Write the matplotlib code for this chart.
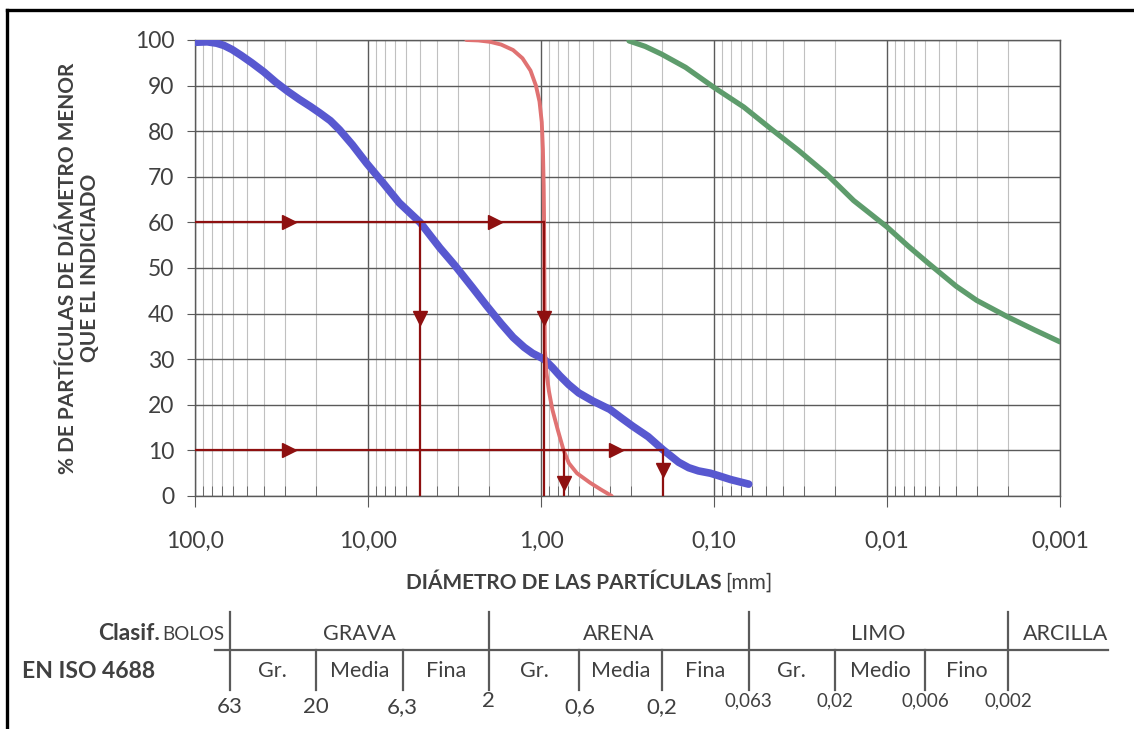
import numpy as np
import matplotlib
matplotlib.use("Agg")
import matplotlib.pyplot as plt
import matplotlib.transforms as mtransforms
from matplotlib.lines import Line2D

plt.rcParams['font.family'] = ['Lato', 'DejaVu Sans']

# ── data ─────────────────────────────────────────────────────────────────────
blue_d = [100, 85, 75, 68, 61, 54, 47, 40, 34, 29, 25, 21.5, 19, 16.5, 14.6, 12.3,
          10.2, 8.2, 6.6, 5.0, 3.84, 3.12, 2.5, 2.07, 1.7, 1.45, 1.25, 1.12, 0.96,
          0.86, 0.78, 0.69, 0.605, 0.5, 0.40, 0.34, 0.295, 0.24, 0.198, 0.16,
          0.14, 0.123, 0.105, 0.095, 0.08, 0.063]
blue_p = [99.5, 99.6, 99.3, 98.8, 97.9, 96.6, 95, 93, 90.7, 88.7, 87, 85.4, 84,
          82.3, 80.3, 77, 73, 68.7, 64.3, 60, 54.4, 50.4, 45.8, 41.8, 37.8, 34.8,
          32.6, 31.3, 30, 28.2, 26.4, 24.4, 22.6, 20.8, 19, 17, 15.3, 13, 10.2,
          7.4, 6.2, 5.5, 5.0, 4.5, 3.6, 2.6]

red_d = [2.7, 2.3, 1.97, 1.7, 1.45, 1.28, 1.15, 1.07, 1.02, 0.99, 0.975, 0.965,
         0.96, 0.955, 0.95, 0.93, 0.90, 0.86, 0.80, 0.74, 0.69, 0.62, 0.52, 0.45, 0.39]
red_p = [100, 99.9, 99.6, 99, 97.8, 96, 93.3, 90, 86.5, 82, 76, 68, 60, 45, 32,
         27, 23, 19, 14.5, 10, 7.2, 5, 2.9, 1.4, 0]

green_d = [0.31, 0.25, 0.201, 0.146, 0.1, 0.0673, 0.0468, 0.0325, 0.0225, 0.0156,
           0.0122, 0.01, 0.00754, 0.00575, 0.00398, 0.00303, 0.00201, 0.0014, 0.001]
green_p = [99.8, 98.6, 96.9, 94, 89.6, 85.3, 80.5, 75.8, 70.7, 64.8,
           61.6, 59, 54.8, 51, 46, 42.9, 39.3, 36.4, 33.8]

# characteristic diameters (D60 / D10) and arrow spots
d60_blue, d60_red = 5.0, 0.96
d10_red, d10_blue = 0.735, 0.198
h60_arrows = [28.5, 1.84]
h10_arrows = [28.5, 0.37]

x_ticks = [100, 10, 1, 0.1, 0.01, 0.001]
x_ticklabels = ["100,0", "10,00", "1,00", "0,10", "0,01", "0,001"]
y_ticks = list(range(0, 101, 10))

# EN ISO 14688 classification table
bounds = [63, 20, 6.3, 2, 0.6, 0.2, 0.063, 0.02, 0.006, 0.002]
bound_labels = ["63", "20", "6,3", "2", "0,6", "0,2", "0,063", "0,02", "0,006", "0,002"]
main_bounds = [63, 2, 0.063, 0.002]
groups = ["GRAVA", "ARENA", "LIMO"]
subgroups = ["Gr.", "Media", "Fina", "Gr.", "Media", "Fina", "Gr.", "Medio", "Fino"]

TXT = "#404040"
GRID = "#5a5a5a"
DARKRED = "#8e1010"

W, H = 1134, 729
fig = plt.figure(figsize=(W / 100, H / 100), dpi=100)
ax = fig.add_axes([195 / W, 1 - 496 / H, (1060 - 195) / W, (496 - 40) / H])

ax.set_xscale("log")
ax.set_xlim(100, 0.001)
ax.set_ylim(0, 100)

# grid
ax.grid(True, which="major", axis="both", color=GRID, lw=1.0)
ax.grid(True, which="minor", axis="x", color="#c0c0c0", lw=0.8)
ax.set_axisbelow(True)
for s in ax.spines.values():
    s.set_color(GRID)
    s.set_linewidth(1.0)

ax.set_xticks(x_ticks)
ax.set_xticklabels(x_ticklabels)
ax.set_yticks(y_ticks)
ax.xaxis.set_minor_locator(matplotlib.ticker.LogLocator(base=10, subs=np.arange(2, 10)))
ax.xaxis.set_minor_formatter(matplotlib.ticker.NullFormatter())
ax.tick_params(axis="x", which="major", direction="out", length=8, color=GRID,
               labelsize=16.5, labelcolor=TXT, pad=17)
ax.tick_params(axis="x", which="minor", direction="in", length=7, color=GRID)
ax.tick_params(axis="y", direction="out", length=6, color=GRID,
               labelsize=16.5, labelcolor=TXT, pad=9)

# curves
ax.plot(blue_d, blue_p, color="#5858d0", lw=5.5, solid_capstyle="round",
        solid_joinstyle="round", zorder=4)
ax.plot(red_d, red_p, color="#e07272", lw=2.8, solid_capstyle="round",
        solid_joinstyle="round", zorder=4)
ax.plot(green_d, green_p, color="#5e9c6c", lw=3.8, solid_capstyle="round",
        solid_joinstyle="round", zorder=4)

# D60 / D10 construction lines
lkw = dict(color=DARKRED, lw=1.6, zorder=5)
ax.plot([100, d60_red], [60, 60], **lkw)
ax.plot([d60_blue, d60_blue], [60, 0], **lkw)
ax.plot([d60_red, d60_red], [60, 0], **lkw)
ax.plot([100, d10_blue], [10, 10], **lkw)
ax.plot([d10_red, d10_red], [10, 0], **lkw)
ax.plot([d10_blue, d10_blue], [10, 0], **lkw)
mkw = dict(color=DARKRED, ms=10, ls="none", zorder=6)
ax.plot(h60_arrows, [60] * len(h60_arrows), marker=">", **mkw)
ax.plot(h10_arrows, [10] * len(h10_arrows), marker=">", **mkw)
ax.plot([d60_blue, d60_red], [39, 39], marker="v", **mkw)
ax.plot([d10_red], [2.8], marker="v", **mkw)
ax.plot([d10_blue], [5.8], marker="v", **mkw)

ax.set_ylabel("% DE PARTÍCULAS DE DIÁMETRO MENOR\nQUE EL INDICIADO",
              fontsize=15, fontweight="bold", color=TXT, linespacing=1.15)
ax.yaxis.set_label_coords((100 - 195) / 865, 0.5)

# x label: bold part + normal unit
fig.text(722 / W, 1 - 583 / H, "DIÁMETRO DE LAS PARTÍCULAS", ha="right", va="center",
         fontsize=15, fontweight="bold", color=TXT)
fig.text(725 / W, 1 - 583 / H, "[mm]", ha="left", va="center", fontsize=15, color=TXT)

# ── classification table (x in data coords, y in figure coords) ─────────────
tr = mtransforms.blended_transform_factory(ax.transData, fig.transFigure)


def fy(px):
    return 1 - px / H


lk = dict(color=GRID, lw=1.6, transform=tr, clip_on=False)
ax.add_line(Line2D([63 * 1.22, 0.00053], [fy(650), fy(650)], **lk))
for b in main_bounds:
    ax.add_line(Line2D([b, b], [fy(612), fy(690)], **lk))
for b in bounds:
    if b not in main_bounds:
        ax.add_line(Line2D([b, b], [fy(650), fy(690)], **lk))

tk = dict(transform=tr, ha="center", va="center", color=TXT, fontsize=15.5)
for i, g in enumerate(groups):
    lo, hi = main_bounds[i], main_bounds[i + 1]
    ax.text(np.sqrt(lo * hi), fy(634), g, **tk)
ax.text(0.00093, fy(634), "ARCILLA", **tk)
ax.text(63 * 1.07, fy(634), "BOLOS", transform=tr, ha="right", va="center",
        color=TXT, fontsize=13.5)
for i, sg in enumerate(subgroups):
    ax.text(np.sqrt(bounds[i] * bounds[i + 1]), fy(671), sg, **tk)
for b, lab in zip(bounds, bound_labels):
    small = b < 0.07
    ax.text(b, fy(701 if small or b == 2 else 707), lab, transform=tr, ha="center",
            va="center", color=TXT, fontsize=13.5 if small else 16)

fig.text(160 / W, fy(634), "Clasif.", ha="right", va="center", fontsize=16.5,
         fontweight="bold", color=TXT)
fig.text(22 / W, fy(671), "EN ISO 4688", ha="left", va="center", fontsize=16.5,
         fontweight="bold", color=TXT)

# outer frame (top and left edges visible)
fig.add_artist(Line2D([7 / W, 7 / W], [0, fy(10)], color="black", lw=2.4,
                      transform=fig.transFigure))
fig.add_artist(Line2D([7 / W, 1], [fy(10), fy(10)], color="black", lw=2.4,
                      transform=fig.transFigure))

fig.savefig("out.png", dpi=100)
